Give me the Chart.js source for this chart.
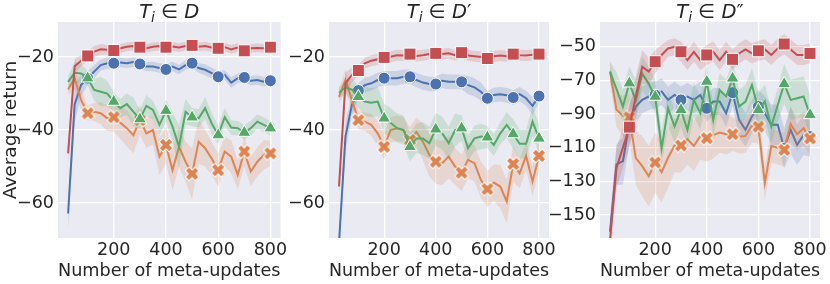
<!DOCTYPE html>
<html>
<head>
<meta charset="utf-8">
<script src="https://cdn.jsdelivr.net/npm/chart.js@4"></script>
<style>
  body { margin: 0; background: #fff; }
  #wrap { position: relative; width: 830px; height: 284px; }
  canvas { position: absolute; top: 0; }
</style>
</head>
<body>
<div id="wrap">
  <canvas id="p1" width="290" height="284" style="left:0px"></canvas>
  <canvas id="p2" width="270" height="284" style="left:290px"></canvas>
  <canvas id="p3" width="285" height="284" style="left:545px"></canvas>
</div>
<script>
// x values (meta-updates)
const updates = [25, 50, 75, 100, 125, 150, 175, 200, 225, 250, 275, 300, 325, 350, 375, 400,
    425, 450, 475, 500, 525, 550, 575, 600, 625, 650, 675, 700, 725, 750, 775, 800];
const xTicks = [200, 400, 600, 800];
const yTicksAB = [-60, -40, -20];
const yTicksC = [-150, -130, -110, -90, -70, -50];

// panel 1: T_i in D
const red1 = [-46.4, -22.5, -21, -19.7, -18.5, -17.9, -18.0, -18.2, -17.6, -17.2, -17.0, -17.3, -17.6, -17.2, -17.0, -17.3,
    -17.1, -17.4, -17.0, -16.8, -17.2, -17.0, -17.4, -17.6, -17.3, -17.9, -17.4, -18.3, -17.6, -17.5, -17.6, -17.3];
const blue1 = [-62.9, -33, -27.6, -25.8, -24, -22.2, -21.7, -21.7, -21.5, -21.7, -21.4, -21.9, -22.6, -22.6, -23, -23.4,
    -22.6, -23.4, -22.2, -21.7, -23, -23.5, -24.4, -25.4, -24.9, -27, -25.8, -25.6, -26.5, -26.3, -26.8, -26.5];
const green1 = [-26.8, -24.3, -24.5, -25.8, -29, -29.5, -30, -32.2, -34, -32.9, -35, -37, -33.4, -34.5, -38.6, -34.7,
    -39.1, -44.6, -35, -36.5, -36.8, -34, -38.2, -41.4, -36.5, -39.3, -39.5, -40.7, -39.5, -37.7, -38.6, -39.5];
const orange1 = [-28.9, -25.8, -31.8, -35.4, -35, -35.4, -36.8, -36.5, -38, -39.5, -41.4, -37.3, -40.9, -40, -47.3, -44.1,
    -51, -44.6, -48.7, -52, -43.2, -45, -47.8, -51, -45.9, -47.3, -52.3, -45.9, -51.4, -48.7, -46.8, -46.4];
const red1Err = [3, 2, 1.5, 1.3, 1.5, 1.5, 1.3, 1.2, 1.2, 1.2, 1.2, 1.2, 1.2, 1.2, 1.2, 1.2,
    1.2, 1.2, 1.2, 1.2, 1.2, 1.2, 1.2, 1.2, 1.2, 1.2, 1.2, 1.2, 1.2, 1.2, 1.2, 1.2];
const blue1Err = [4, 5, 3, 2, 1.8, 1.5, 1.5, 1.5, 1.3, 1.3, 1.3, 1.3, 1.3, 1.3, 1.3, 1.5,
    1.3, 1.3, 1.3, 1.3, 1.3, 1.5, 1.5, 1.5, 1.3, 1.5, 1.3, 1.3, 1.3, 1.3, 1.3, 1.3];
const green1Err = [1.5, 3, 2.5, 2, 3, 4, 3.5, 2.5, 2.5, 3, 4, 2.5, 3, 2.5, 3, 3,
    4, 6, 3.5, 2.5, 2.5, 3, 3, 2.5, 2.5, 2, 2, 2, 2, 2, 2, 2];
const orange1Err = [1.5, 3, 3, 2, 2.5, 3, 3.5, 4, 4.5, 5, 5, 4, 4, 4, 5, 5,
    5.5, 5.5, 5.5, 7, 6, 5, 4.5, 4.5, 4, 4.5, 4, 4, 4, 4, 4, 3.5];

// panel 2: T_i in D'
const red2 = [-55.5, -27.2, -24.9, -23.7, -21.7, -21, -20.6, -20.1, -19.9, -19.5, -19.6, -19.2, -19.7, -19.5, -19.2, -19,
    -19.2, -19, -19.5, -18.8, -19.6, -19.8, -20, -20.4, -19.8, -19.6, -19.8, -19.2, -19.5, -19.6, -19.4, -19.2];
const blue2 = [-71, -41.8, -33.1, -29.2, -27.7, -27.2, -26.3, -25.8, -25.8, -25.8, -25.4, -25.4, -26.3, -27, -27.4, -27.4,
    -26.5, -26.8, -26.8, -26.8, -27.7, -28.3, -29.5, -31.3, -30.4, -30.2, -30.5, -31.1, -30.2, -31.3, -33.4, -30.7];
const green2 = [-29.8, -28.3, -28.9, -30.9, -32.2, -32.5, -32.2, -36.8, -38, -39.5, -40, -44.6, -42.3, -42.3, -43.6, -39.8,
    -40.9, -43.6, -40, -39.5, -45, -42.3, -41.8, -42, -44.1, -40.9, -38.6, -41.1, -43.8, -43.8, -37.7, -42.3];
const orange2 = [-30.9, -26.3, -31.8, -37.3, -37.7, -38.6, -40.9, -44.6, -40, -39.5, -40, -42.7, -40.5, -43.2, -46.8, -48.7,
    -49.1, -47.3, -50, -51.7, -48.2, -49.1, -53.7, -56.2, -54.4, -55.5, -59.6, -49.3, -51.9, -47.1, -54.1, -47.1];
const red2Err = [3, 3, 2, 1.5, 1.5, 1.5, 1.5, 1.5, 1.5, 1.5, 1.5, 1.5, 1.5, 1.5, 1.5, 1.5,
    1.5, 1.5, 1.5, 1.5, 1.5, 1.5, 1.5, 1.5, 1.5, 1.5, 1.5, 1.5, 1.5, 1.5, 1.5, 1.5];
const blue2Err = [3, 4, 3, 2, 2, 2, 2, 2, 2, 2, 2, 2, 2, 2, 2, 2,
    2, 2, 2, 2, 2.5, 2.5, 2.5, 2, 2, 2, 2, 2, 2, 2, 2.5, 2];
const green2Err = [1.5, 2, 3, 3, 4, 4, 4, 4, 4, 4, 4, 4, 4, 4.5, 4.5, 4.5,
    4.5, 4.5, 4.5, 3.5, 3.5, 3.5, 3.5, 3, 3, 3, 3.5, 4, 4, 4, 4, 4];
const orange2Err = [2, 3, 3, 2.5, 2.5, 3, 3.5, 3.5, 3.5, 3.5, 3.5, 3.5, 4, 5, 6, 6,
    6, 6, 5, 5, 5, 5, 5, 5, 5, 6, 6, 5, 4, 4, 4, 4];

// panel 3: T_i in D''
const red3 = [-165, -122, -110, -97.8, -79.6, -61.9, -64.8, -58.9, -54.9, -51, -50, -53, -57.9, -53, -57.9, -54.9,
    -53, -57.9, -53, -57.5, -54, -51.6, -54, -52.4, -51.6, -54.9, -51, -48.4, -51.6, -54.9, -54.9, -54];
const blue3 = [-160, -120, -118, -96, -85.6, -81.6, -79.6, -78.7, -76.7, -81.6, -78.7, -81.6, -79.6, -81.6, -78.7, -86.6,
    -82.6, -82.6, -89.5, -77.3, -93.5, -99.4, -91.5, -85.6, -89.5, -96.4, -96.4, -110.3, -99.4, -108.3, -102.4, -103.4];
const green3 = [-64.8, -75, -85.6, -71.7, -82, -66, -72, -79.6, -110.3, -86.6, -97.4, -87.5, -99.4, -81.6, -89.5, -70.7,
    -93.5, -75.7, -79.6, -68.8, -85.6, -82.6, -72.7, -87.5, -82.6, -97.4, -84.6, -72.1, -81.6, -80.6, -79.6, -90.5];
const orange3 = [-64.8, -87.5, -91, -91.9, -116.2, -121, -127, -118.8, -124.6, -116, -108.7, -108.7, -105, -109, -103, -104.4,
    -102.5, -101, -102, -102, -103.5, -103, -97, -97.5, -131, -109, -110, -111.3, -96, -102, -98.5, -104.5];
const red3Err = [10, 12, 12, 12, 12, 10, 8, 7, 6, 5, 5, 6, 6, 6, 6, 6,
    6, 6, 6, 6, 6, 6, 6, 6, 6, 6, 6, 6, 6, 6, 6, 6];
const blue3Err = [8, 12, 14, 12, 10, 8, 8, 8, 8, 8, 8, 8, 8, 8, 8, 8,
    8, 8, 8, 8, 10, 10, 10, 10, 10, 12, 12, 12, 14, 12, 12, 12];
const green3Err = [6, 10, 10, 10, 12, 10, 10, 10, 10, 10, 10, 10, 10, 10, 10, 10,
    10, 10, 10, 10, 10, 10, 10, 10, 10, 10, 10, 12, 12, 12, 12, 12];
const orange3Err = [6, 10, 12, 14, 16, 18, 18, 18, 18, 18, 16, 16, 15, 15, 14, 14,
    14, 12, 12, 10, 10, 10, 10, 10, 10, 10, 10, 10, 10, 10, 10, 10];

const FONT = '"DejaVu Sans", sans-serif';
const TEXT = "#262626";
const BLUE = "#4C72B0", ORANGE = "#DD8452", GREEN = "#55A868", RED = "#C44E52";

function rgba(hex, a) {
    const n = parseInt(hex.slice(1), 16);
    return `rgba(${n >> 16}, ${(n >> 8) & 255}, ${n & 255}, ${a})`;
}

// seaborn style filled "X" marker with white edge
function makeXMarker(color) {
    const c = document.createElement("canvas");
    c.width = 18;
    c.height = 18;
    const g = c.getContext("2d");
    g.translate(9, 9);
    g.rotate(Math.PI / 4);
    const a = 7, b = 2.7;
    g.beginPath();
    g.moveTo(-b, -a); g.lineTo(b, -a); g.lineTo(b, -b); g.lineTo(a, -b);
    g.lineTo(a, b); g.lineTo(b, b); g.lineTo(b, a); g.lineTo(-b, a);
    g.lineTo(-b, b); g.lineTo(-a, b); g.lineTo(-a, -b); g.lineTo(-b, -b);
    g.closePath();
    g.fillStyle = color;
    g.fill();
    g.strokeStyle = "#fff";
    g.lineWidth = 1;
    g.stroke();
    return c;
}
const xMarker = makeXMarker(ORANGE);

const pts = (vals) => updates.map((x, i) => ({ x: x, y: vals[i] }));

// one series = lower bound, upper bound (filled to lower) and the mean line
function series(color, vals, err, style, radius, order) {
    const lo = vals.map((v, i) => v - err[i]);
    const hi = vals.map((v, i) => v + err[i]);
    return [
        { data: pts(lo), borderWidth: 0, pointRadius: 0, fill: false, order: order + 1 },
        { data: pts(hi), borderWidth: 0, pointRadius: 0, fill: "-1",
          backgroundColor: rgba(color, 0.2), order: order + 1 },
        {
            data: pts(vals),
            borderColor: color,
            borderWidth: 2,
            fill: false,
            pointStyle: style,
            pointRadius: (ctx) => (updates[ctx.dataIndex] % 100 === 0 ? radius : 0),
            pointBackgroundColor: color,
            pointBorderColor: "#fff",
            pointBorderWidth: 1,
            order: order,
        },
    ];
}

// grey plot background
const bgPlugin = {
    id: "bg",
    beforeDraw(chart) {
        const a = chart.chartArea;
        chart.ctx.save();
        chart.ctx.fillStyle = "#EAEAF2";
        chart.ctx.fillRect(a.left, a.top, a.right - a.left, a.bottom - a.top);
        chart.ctx.restore();
    },
};

// title like  T_i ∈ D'
const titlePlugin = {
    id: "panelTitle",
    afterDraw(chart, args, opts) {
        const ctx = chart.ctx;
        const a = chart.chartArea;
        const parts = [
            { t: "T", f: "italic 19.5px " + FONT, dy: 0 },
            { t: "i", f: "italic 14px " + FONT, dy: 4 },
            { t: " \u2208 ", f: "19.5px " + FONT, dy: 0 },
            { t: "D", f: "italic 19.5px " + FONT, dy: 0 },
            { t: opts.prime || "", f: "19px " + FONT, dy: 0 },
        ];
        let w = 0;
        parts.forEach((p) => { ctx.font = p.f; p.w = ctx.measureText(p.t).width; w += p.w; });
        let x = (a.left + a.right) / 2 - w / 2;
        ctx.save();
        ctx.fillStyle = TEXT;
        ctx.textBaseline = "alphabetic";
        parts.forEach((p) => {
            ctx.font = p.f;
            ctx.fillText(p.t, x, 18 + p.dy);
            x += p.w;
        });
        ctx.restore();
    },
};

function makePanel(id, sets, opt) {
    const datasets = [].concat(
        series(BLUE, sets[0], sets[1], "circle", 6, 7),
        series(ORANGE, sets[2], sets[3], xMarker, 6, 5),
        series(GREEN, sets[4], sets[5], "triangle", 7.5, 3),
        series(RED, sets[6], sets[7], "rect", 8.5, 1)
    );
    return new Chart(document.getElementById(id), {
        type: "line",
        data: { datasets: datasets },
        plugins: [bgPlugin, titlePlugin],
        options: {
            responsive: false,
            animation: false,
            devicePixelRatio: 1,
            layout: { padding: { top: 22, right: opt.right, left: 0, bottom: 0 } },
            plugins: {
                legend: { display: false },
                tooltip: { enabled: false },
                panelTitle: { prime: opt.prime },
            },
            elements: { line: { tension: 0 } },
            scales: {
                x: {
                    type: "linear",
                    min: -13.75,
                    max: 838.75,
                    afterBuildTicks: (s) => { s.ticks = xTicks.map((v) => ({ value: v })); },
                    afterFit: (s) => { s.height = 46; s.paddingLeft = 0; s.paddingRight = 0; },
                    grid: { color: "#fff", lineWidth: 1.3, drawTicks: false },
                    border: { display: false },
                    ticks: { color: TEXT, padding: 2, maxRotation: 0, font: { family: FONT, size: 17.5 } },
                    title: {
                        display: true,
                        text: "Number of meta-updates",
                        color: TEXT,
                        padding: { top: 0, bottom: 2 },
                        font: { family: FONT, size: 18.5 },
                    },
                },
                y: {
                    min: opt.ymin,
                    max: opt.ymax,
                    afterBuildTicks: (s) => { s.ticks = opt.yTicks.map((v) => ({ value: v })); },
                    afterFit: (s) => { s.width = opt.yWidth; s.paddingTop = 0; s.paddingBottom = 0; },
                    grid: { color: "#fff", lineWidth: 1.3, drawTicks: false },
                    border: { display: false },
                    ticks: {
                        color: TEXT,
                        padding: 4,
                        font: { family: FONT, size: 17.5 },
                        callback: (v) => String(v).replace("-", "\u2212"),
                    },
                    title: {
                        display: !!opt.yTitle,
                        text: opt.yTitle || "",
                        color: TEXT,
                        padding: { top: 0, bottom: 1 },
                        font: { family: FONT, size: 18.5 },
                    },
                },
            },
        },
    });
}

makePanel("p1", [blue1, blue1Err, orange1, orange1Err, green1, green1Err, red1, red1Err],
    { right: 7, yWidth: 58, ymin: -69.6, ymax: -10.4, yTicks: yTicksAB, yTitle: "Average return", prime: "" });
makePanel("p2", [blue2, blue2Err, orange2, orange2Err, green2, green2Err, red2, red2Err],
    { right: 11, yWidth: 39, ymin: -69.6, ymax: -10.4, yTicks: yTicksAB, prime: "\u2032" });
makePanel("p3", [blue3, blue3Err, orange3, orange3Err, green3, green3Err, red3, red3Err],
    { right: 10, yWidth: 55, ymin: -163.7, ymax: -35.3, yTicks: yTicksC, prime: "\u2033" });
</script>
</body>
</html>
